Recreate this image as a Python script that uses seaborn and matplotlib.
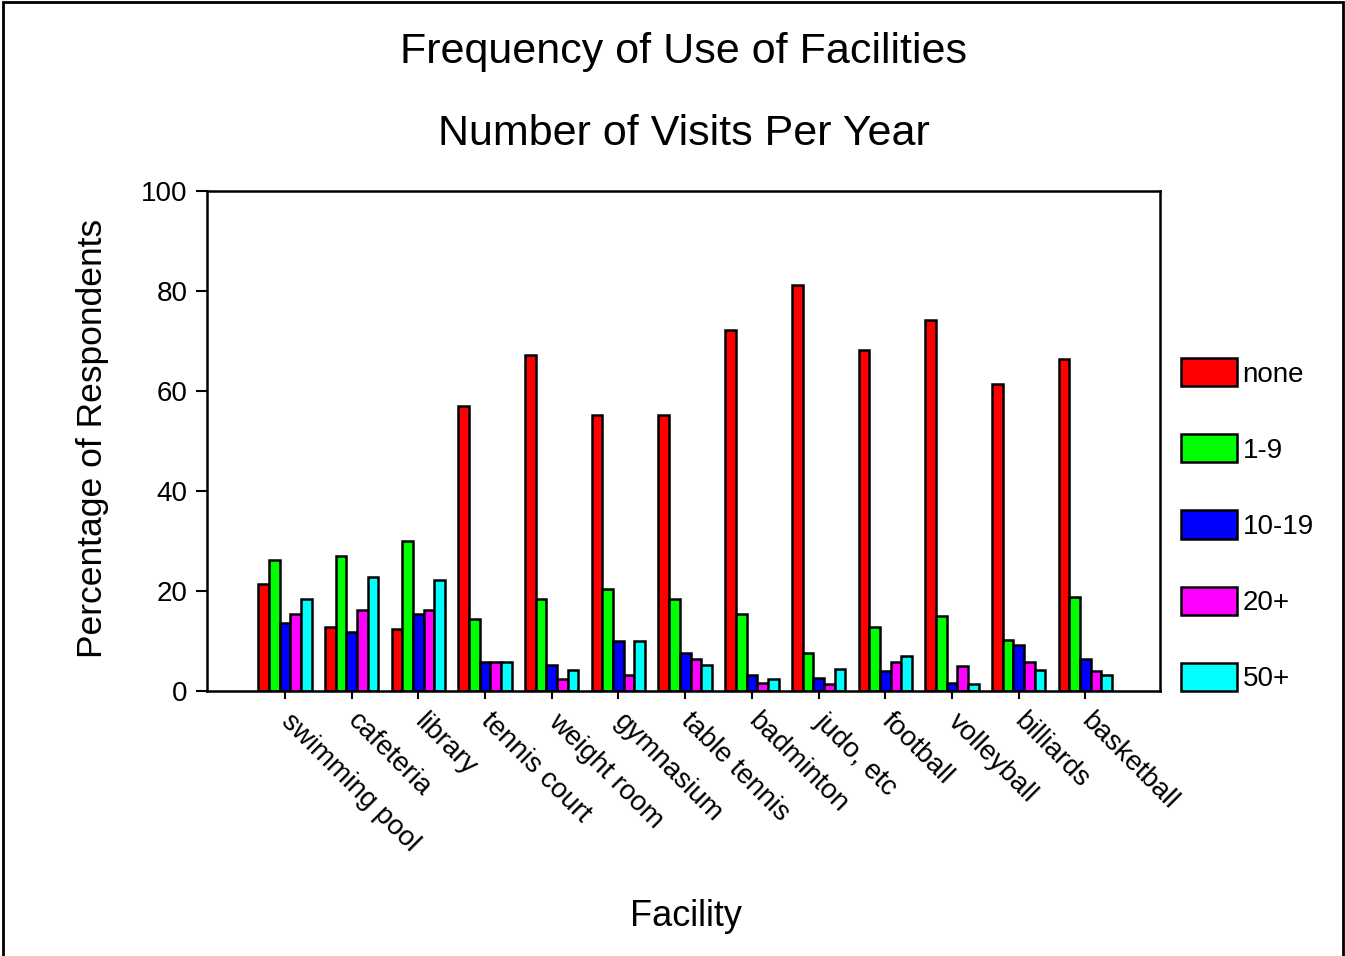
import numpy as np
import pandas as pd
import matplotlib
matplotlib.use("Agg")
import matplotlib.pyplot as plt
import seaborn as sns
from matplotlib.patches import Rectangle

# values (percent of respondents)
facilities = ["swimming pool", "cafeteria", "library", "tennis court", "weight room",
              "gymnasium", "table tennis", "badminton", "judo, etc", "football",
              "volleyball", "billiards", "basketball"]
visits = ["none", "1-9", "10-19", "20+", "50+"]

none_pct = [21.4, 12.9, 12.5, 57.1, 67.2, 55.3, 55.3, 72.3, 81.3, 68.3, 74.2, 61.5, 66.4]
v1_9 = [26.2, 27.0, 30.0, 14.4, 18.5, 20.4, 18.5, 15.5, 7.7, 12.9, 15.1, 10.2, 18.8]
v10_19 = [13.7, 11.8, 15.5, 5.8, 5.2, 10.0, 7.7, 3.3, 2.6, 4.0, 1.7, 9.2, 6.5]
v20p = [15.5, 16.3, 16.3, 5.8, 2.5, 3.3, 6.5, 1.7, 1.4, 5.8, 5.1, 5.8, 4.0]
v50p = [18.5, 22.9, 22.2, 5.8, 4.3, 10.0, 5.2, 2.5, 4.5, 7.0, 1.4, 4.3, 3.3]

colors = ["#ff0000", "#00ff00", "#0000ff", "#ff00ff", "#00ffff"]

rows = []
for name, vals in zip(visits, [none_pct, v1_9, v10_19, v20p, v50p]):
    for fac, v in zip(facilities, vals):
        rows.append({"facility": fac, "visits": name, "pct": v})
df = pd.DataFrame(rows)

sns.set_style("white")
plt.rcParams["font.family"] = ["Liberation Sans", "DejaVu Sans"]
plt.rcParams["text.color"] = "black"
plt.rcParams["xtick.color"] = "black"
plt.rcParams["ytick.color"] = "black"

W, H = 1345, 956
fig = plt.figure(figsize=(W / 100, H / 100), dpi=100)
ax = fig.add_axes([207 / W, 1 - 691 / H, (1160 - 207) / W, (691 - 191) / H])

sns.barplot(data=df, x="facility", y="pct", hue="visits", order=facilities,
            hue_order=visits, palette=colors, edgecolor="black", linewidth=1.8,
            width=0.8, saturation=1, ax=ax)

ax.set_ylim(0, 100)
ax.set_xlim(-1.17, 13.12)
ax.set_yticks([0, 20, 40, 60, 80, 100])
ax.tick_params(axis="y", direction="out", length=8, width=1.5, labelsize=20, pad=6, left=True)
ax.tick_params(axis="x", direction="out", length=6, width=1.5, labelsize=20, pad=13, bottom=True)
for lab in ax.get_xticklabels():
    lab.set_rotation(-45)
    lab.set_ha("left")
    lab.set_va("center")
    lab.set_rotation_mode("anchor")
for s in ax.spines.values():
    s.set_visible(True)
    s.set_color("black")
    s.set_linewidth(1.8)

ax.set_xlabel("")
ax.set_ylabel("")
fig.text(93 / W, 1 - 438 / H, "Percentage of Respondents", rotation=90,
         ha="center", va="center", fontsize=25.5)
fig.text(686 / W, 1 - 916 / H, "Facility", ha="center", va="center", fontsize=26)
fig.text(684 / W, 1 - 52 / H, "Frequency of Use of Facilities", ha="center", va="center", fontsize=31)
fig.text(684 / W, 1 - 134 / H, "Number of Visits Per Year", ha="center", va="center", fontsize=31)

handles, labels = ax.get_legend_handles_labels()
ax.legend_.remove()
fig.legend(handles, labels, loc="upper left", bbox_to_anchor=(1181 / W, 1 - 358 / H),
           bbox_transform=fig.transFigure, frameon=False, fontsize=20,
           handlelength=2.0, handleheight=1.19, labelspacing=1.68,
           handletextpad=0.22, borderpad=0, borderaxespad=0)

fig.patches.append(Rectangle((3 / W, -0.01), (1343 - 3) / W, 1.01 - 2 / H,
                             transform=fig.transFigure, fill=False,
                             edgecolor="black", linewidth=2))

fig.savefig("out.png", dpi=100)
